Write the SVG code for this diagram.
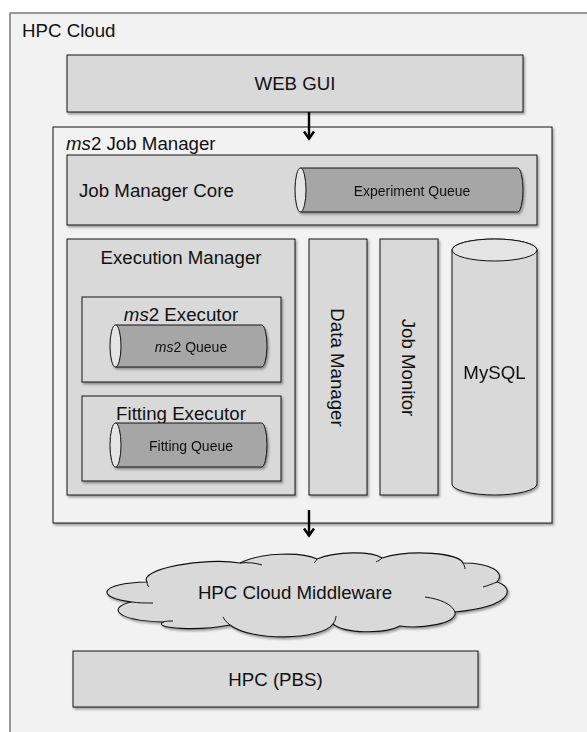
<svg xmlns="http://www.w3.org/2000/svg" width="587" height="732" viewBox="0 0 587 732">
  <defs>
    <filter id="shadow" x="-10%" y="-10%" width="120%" height="130%">
      <feDropShadow dx="1.5" dy="2" stdDeviation="1.2" flood-color="#000" flood-opacity="0.35"/>
    </filter>
    <marker id="head" viewBox="0 0 10 12" refX="8.5" refY="6" markerWidth="10" markerHeight="12" markerUnits="userSpaceOnUse" orient="auto">
      <path d="M1,1 L8,6 L1,11" fill="none" stroke="#000" stroke-width="2.5" stroke-linejoin="miter"/>
    </marker>
    <style>
      text { font-family: "Liberation Sans", Arial, sans-serif; fill: #111; }
      .lbl { font-size: 18.7px; }
      .sm { font-size: 14px; }
      .mid { text-anchor: middle; }
      .box { fill: #d9d9d9; stroke: #111; stroke-width: 1; filter: url(#shadow); }
      .pane { fill: #f2f2f2; stroke: #111; stroke-width: 1; }
      .queue { fill: #a6a6a6; stroke: #111; stroke-width: 1; }
      .cap { fill: #e4e4e4; stroke: #111; stroke-width: 1; }
      .edge { stroke: #000; stroke-width: 2.4; fill: none; marker-end: url(#head); }
      .seam { fill: none; stroke: #111; stroke-width: 1; }
    </style>
  </defs>

  <rect width="587" height="732" fill="#ffffff"/>

  <!-- HPC Cloud container -->
  <g id="hpc-cloud">
    <rect x="10" y="13" width="600" height="740" fill="#f2f2f2" stroke="#666" stroke-width="1.3"/>
    <text class="lbl" x="22" y="36.5">HPC Cloud</text>
  </g>

  <!-- WEB GUI -->
  <g id="web-gui">
    <rect class="box" x="67" y="55" width="456" height="57"/>
    <text class="lbl mid" x="295" y="90">WEB GUI</text>
  </g>

  <!-- ms2 Job Manager -->
  <g id="job-manager">
    <rect class="pane" x="53" y="127" width="499" height="396" filter="url(#shadow)"/>
    <text class="lbl" x="66" y="150"><tspan font-style="italic">ms</tspan>2 Job Manager</text>
  </g>

  <!-- Job Manager Core with its queue -->
  <g id="job-manager-core">
    <rect class="box" x="67" y="155" width="470" height="70"/>
    <text class="lbl" x="79" y="197">Job Manager Core</text>
  </g>
  <g id="experiment-queue" filter="url(#shadow)">
    <path class="queue" d="M300.5,168 H517.5 A5.5,22 0 0 1 517.5,212 H300.5 Z"/>
    <ellipse class="cap" cx="300.5" cy="190" rx="5.5" ry="22"/>
    <text class="sm mid" x="412" y="196">Experiment Queue</text>
  </g>

  <!-- Execution Manager -->
  <g id="execution-manager">
    <rect class="box" x="67" y="239" width="228" height="256"/>
    <text class="lbl mid" x="181" y="264">Execution Manager</text>
  </g>

  <g id="ms2-executor">
    <rect class="box" x="82" y="297" width="199" height="85"/>
    <text class="lbl mid" x="181" y="320.5"><tspan font-style="italic">ms</tspan>2 Executor</text>
  </g>
  <g id="ms2-queue" filter="url(#shadow)">
    <path class="queue" d="M115.5,325 H261.5 A5.5,21 0 0 1 261.5,367 H115.5 Z"/>
    <ellipse class="cap" cx="115.5" cy="346" rx="5.5" ry="21"/>
    <text class="sm mid" x="191" y="351.5"><tspan font-style="italic">ms</tspan>2 Queue</text>
  </g>

  <g id="fitting-executor">
    <rect class="box" x="82" y="396" width="199" height="85"/>
    <text class="lbl mid" x="181" y="419.5">Fitting Executor</text>
  </g>
  <g id="fitting-queue" filter="url(#shadow)">
    <path class="queue" d="M115.5,423 H261.5 A5.5,22 0 0 1 261.5,467 H115.5 Z"/>
    <ellipse class="cap" cx="115.5" cy="445" rx="5.5" ry="22"/>
    <text class="sm mid" x="191" y="451">Fitting Queue</text>
  </g>

  <!-- Vertical components -->
  <g id="data-manager">
    <rect class="box" x="309" y="239" width="58" height="256"/>
    <text class="lbl mid" transform="translate(331,367.5) rotate(90)">Data Manager</text>
  </g>
  <g id="job-monitor">
    <rect class="box" x="380" y="239" width="58" height="256"/>
    <text class="lbl mid" transform="translate(402,367.5) rotate(90)">Job Monitor</text>
  </g>
  <g id="mysql" filter="url(#shadow)">
    <path d="M452,250 V484 A42.5,11 0 0 0 537,484 V250 A42.5,11 0 0 0 452,250 Z" fill="#d9d9d9" stroke="#111" stroke-width="1"/>
    <ellipse class="cap" cx="494.5" cy="250" rx="42.5" ry="11" fill="#e8e8e8"/>
    <text class="lbl mid" x="494.5" y="378.5" font-size="17.5">MySQL</text>
  </g>

  <!-- Middleware cloud -->
  <g id="middleware">
    <path filter="url(#shadow)" fill="#d9d9d9" stroke="#111" stroke-width="1.1"
      d="M147,582
         C138,569 205,557 240,563
         C262,552 302,552 317,559
         C336,551 372,551 382,558
         C412,549 458,553 463,563
         C490,563 506,572 497,582
         C514,587 516,606 455,612
         C458,624 420,629 400,626
         C385,634 345,634 333,624
         C320,641 250,641 230,625
         C200,631 152,629 163,622
         C110,620 110,606 132,602
         C95,598 98,583 147,582 Z"/>
    <path class="seam" d="M147,582 C147,584 148,586 149,587"/>
    <path class="seam" d="M153,603 C145,603 138,603 132,602"/>
    <path class="seam" d="M173,621 C169,621 166,621 163,622"/>
    <path class="seam" d="M240,563 C248,562 256,563 262,565"/>
    <path class="seam" d="M317,559 C316,561 315,562 314,563"/>
    <path class="seam" d="M382,558 C380,560 378,561 376,562"/>
    <path class="seam" d="M463,563 C464,565 465,567 465,569"/>
    <path class="seam" d="M497,582 C492,584 487,586 483,587"/>
    <path class="seam" d="M425,597 C440,599 452,604 455,612"/>
    <path class="seam" d="M333,624 C335,621 336,618 336,616"/>
    <path class="seam" d="M230,625 C226,622 224,619 223,617"/>
    <text class="lbl mid" x="295" y="599">HPC Cloud Middleware</text>
  </g>

  <!-- HPC (PBS) -->
  <g id="hpc-pbs">
    <rect class="box" x="73" y="651" width="405" height="56"/>
    <text class="lbl mid" x="275.5" y="686" font-size="17.5">HPC (PBS)</text>
  </g>

  <!-- Connectors -->
  <g id="connectors">
    <line class="edge" x1="309" y1="112" x2="309" y2="139"/>
    <line class="edge" x1="309" y1="510" x2="309" y2="536"/>
  </g>
</svg>
